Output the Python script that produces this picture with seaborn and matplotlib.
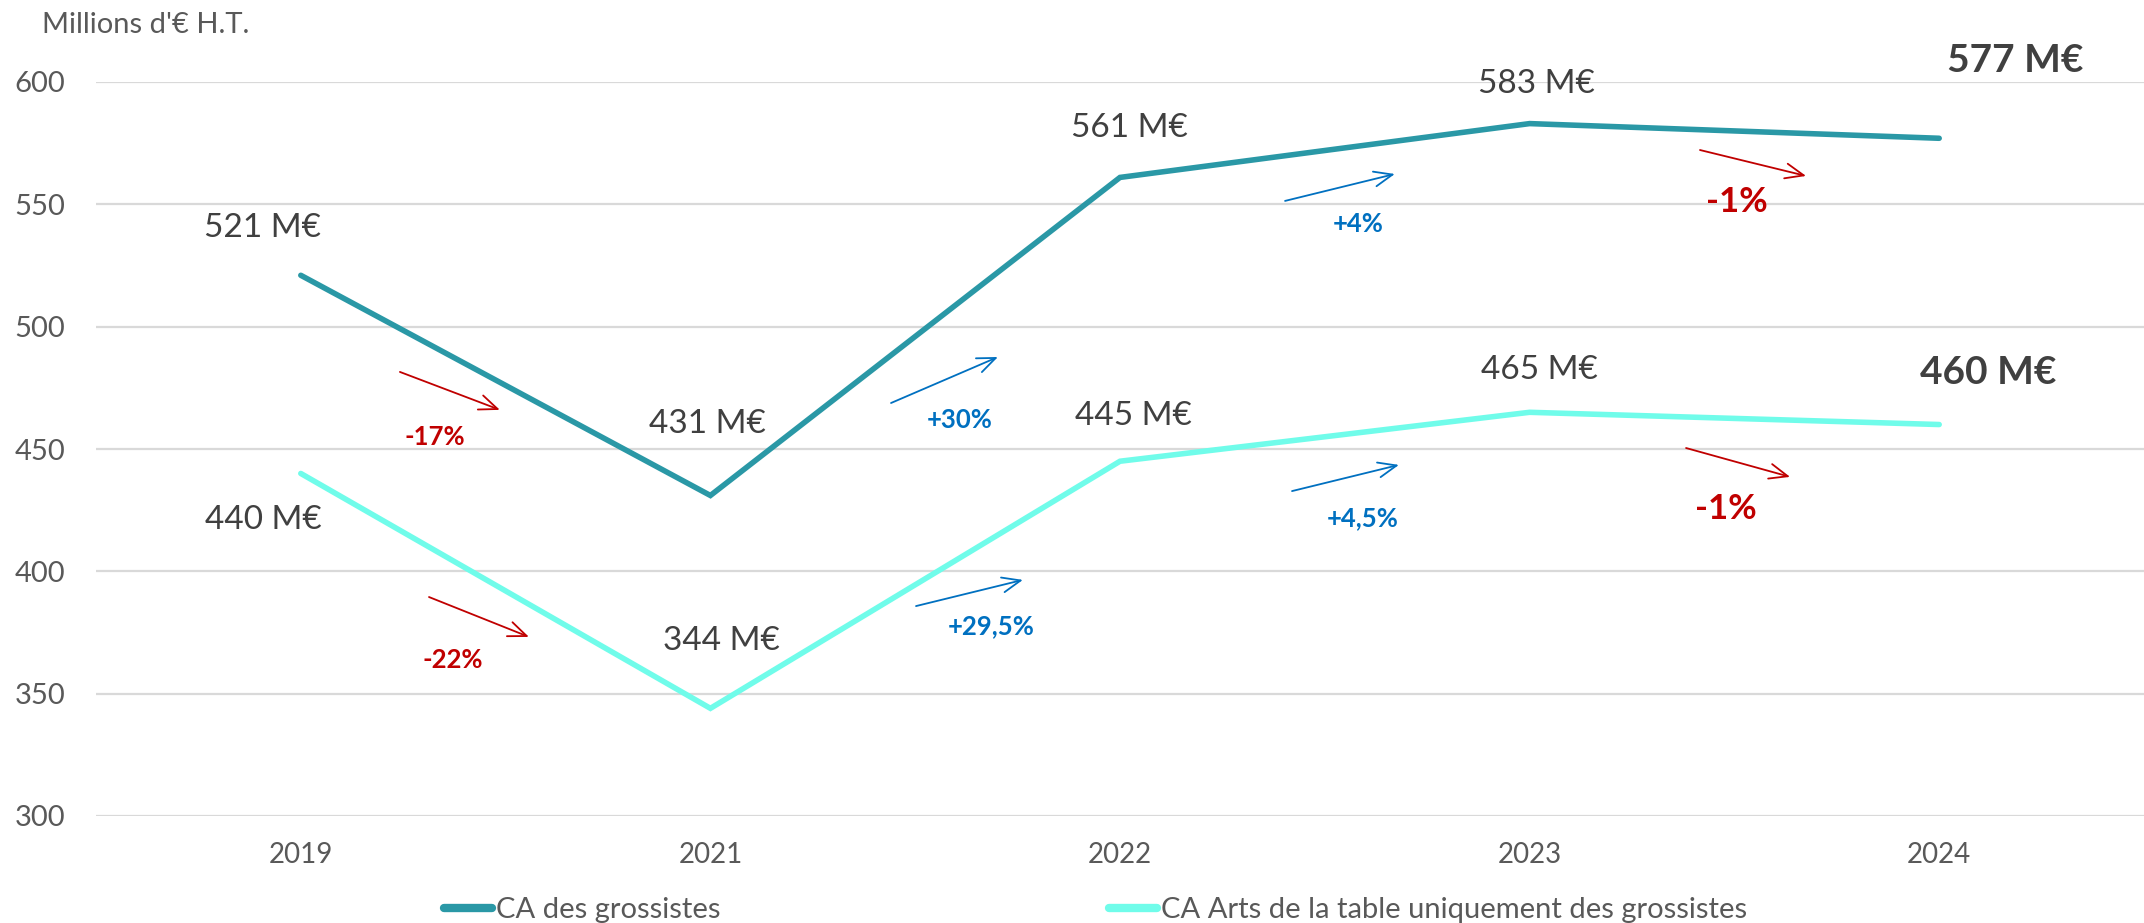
import matplotlib
matplotlib.use("Agg")
import matplotlib.pyplot as plt
import seaborn as sns
import pandas as pd

# ---- data ----
years = ["2019", "2021", "2022", "2023", "2024"]
ca_grossistes = [521, 431, 561, 583, 577]
ca_arts_table = [440, 344, 445, 465, 460]
series_names = ["CA des grossistes", "CA Arts de la table uniquement des grossistes"]
labels_grossistes = ["521 M€", "431 M€", "561 M€", "583 M€", "577 M€"]
labels_arts = ["440 M€", "344 M€", "445 M€", "465 M€", "460 M€"]
evol_grossistes = ["-17%", "+30%", "+4%", "-1%"]
evol_arts = ["-22%", "+29,5%", "+4,5%", "-1%"]
y_ticks = [300, 350, 400, 450, 500, 550, 600]

# ---- style ----
sns.set_theme(style="white")
plt.rcParams['font.family'] = ['Lato', 'DejaVu Sans']
DARK = "#2A98A6"
LIGHT = "#70FCEA"
TXT = "#404040"
TICK = "#595959"
RED = "#C00000"
BLUE = "#0070C0"

df = pd.DataFrame({
    "Année": years * 2,
    "Valeur": ca_grossistes + ca_arts_table,
    "Série": [series_names[0]] * len(years) + [series_names[1]] * len(years),
})

fig = plt.figure(figsize=(21.44, 9.23), dpi=100)
ax = fig.add_axes([96 / 2144, 1 - 816 / 923, 2048 / 2144, 734 / 923])

sns.lineplot(data=df, x="Année", y="Valeur", hue="Série",
             palette=[DARK, LIGHT], linewidth=4.0, ax=ax, sort=False)
for ln in ax.lines:
    ln.set_solid_capstyle("round")
    ln.set_solid_joinstyle("miter")

ax.set_xlim(-0.5, len(years) - 0.5)
ax.set_ylim(300, 600)
ax.set_yticks(y_ticks)
ax.yaxis.grid(True, color="#D9D9D9", linewidth=1.6)
ax.xaxis.grid(False)
for s in ax.spines.values():
    s.set_visible(False)
ax.set_xlabel("")
ax.set_ylabel("")
ax.tick_params(axis="y", length=0, pad=22, labelsize=21, labelcolor=TICK)
ax.tick_params(axis="x", length=0, pad=19, labelsize=20, labelcolor=TICK)
ax.set_axisbelow(True)

fig.text(42 / 2144, 1 - 25 / 923, "Millions d'€ H.T.", fontsize=21, color=TICK,
         ha="left", va="center")

# value labels (offsets in pixels from each point)
off_g = [(-38, 47), (-3, 71), (9, 49), (7, 40), (76, 78)]
off_a = [(-37, -47), (11, 67), (13, 45), (10, 42), (49, 52)]
for offs, vals, labs in ((off_g, ca_grossistes, labels_grossistes),
                         (off_a, ca_arts_table, labels_arts)):
    for i, (v, lab) in enumerate(zip(vals, labs)):
        last = i == len(years) - 1
        ax.annotate(lab, xy=(i, v), xytext=offs[i], textcoords="offset pixels",
                    ha="center", va="center", color=TXT,
                    fontsize=28 if last else 24, fontweight="bold" if last else "normal")

# evolution arrows: (start, end, label position) in data coordinates
arrows_g = [((0.242, 481.5), (0.486, 466.0), (0.328, 454.9)),
            ((1.441, 468.8), (1.702, 487.6), (1.609, 461.9)),
            ((2.403, 551.4), (2.671, 562.4), (2.581, 542.0)),
            ((3.416, 572.2), (3.675, 561.6), (3.506, 551.0))]
arrows_a = [((0.313, 389.5), (0.557, 373.2), (0.372, 363.8)),
            ((1.502, 385.8), (1.763, 396.5), (1.685, 377.7)),
            ((2.420, 432.8), (2.681, 443.5), (2.593, 421.8)),
            ((3.382, 450.4), (3.636, 438.6), (3.479, 425.5))]

for arrows, evols in ((arrows_g, evol_grossistes), (arrows_a, evol_arts)):
    for k, ((s, e, lp), txt) in enumerate(zip(arrows, evols)):
        col = RED if txt.startswith("-") else BLUE
        ax.annotate("", xy=e, xytext=s,
                    arrowprops=dict(arrowstyle="->,head_length=1.1,head_width=0.45",
                                    color=col, lw=1.3, shrinkA=0, shrinkB=0))
        big = k == 3
        ax.text(lp[0], lp[1], txt, color=col, ha="center", va="center",
                fontsize=25 if big else 18.5, fontweight="bold")

# legend
handles, labs = ax.get_legend_handles_labels()
if ax.get_legend():
    ax.get_legend().remove()
leg = fig.legend(handles, labs, loc="center left", bbox_to_anchor=(444 / 2144, 1 - 910 / 923),
                 ncol=2, frameon=False, fontsize=21, handlelength=1.65, handletextpad=0.15,
                 columnspacing=13.3, borderaxespad=0, borderpad=0)
for t in leg.get_texts():
    t.set_color(TICK)
for h in leg.get_lines():
    h.set_linewidth(6)
    h.set_solid_capstyle("round")

fig.savefig("out.png", dpi=100)
